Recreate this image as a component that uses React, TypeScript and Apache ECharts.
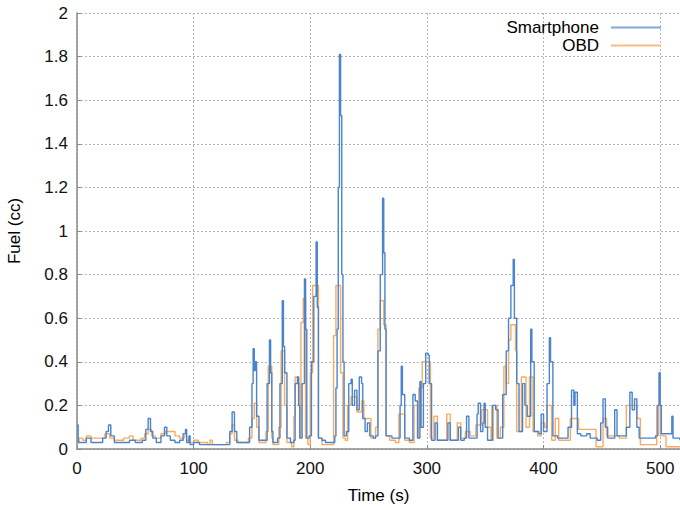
import React, { useEffect, useRef } from "react";
import * as echarts from "echarts";

// Smartphone series (blue): time (s) and fuel (cc)
const smartT = [
  0, 1, 5, 8, 12, 18, 22, 25, 27, 29, 32, 40, 45, 50, 56, 59, 61, 63, 65, 68, 72, 75, 77, 80, 84, 88, 91, 93, 94, 96, 97,
  100, 105, 110, 120, 128, 131, 133, 135, 137, 145, 148, 150, 151, 152, 153, 154, 156, 161, 163, 165, 166, 167, 168,
  172, 174, 176, 177, 178, 180, 183, 186, 187, 189, 190, 191, 193, 195, 196, 197, 199, 201, 203, 205, 206, 207, 210,
  213, 218, 221, 222, 223, 224, 225, 226, 227, 228, 229, 231, 233, 235, 236, 238, 240, 242, 244, 245, 247, 249, 251,
  254, 256, 258, 260, 262, 263, 264, 265, 270, 275, 277, 278, 279, 281, 285, 288, 290, 292, 294, 295, 297, 299, 301,
  302, 304, 307, 309, 316, 318, 320, 325, 327, 329, 332, 334, 336, 341, 343, 344, 346, 348, 349, 350, 352, 356, 359,
  361, 365, 368, 370, 372, 374, 375, 377, 379, 382, 384, 386, 389, 390, 392, 396, 398, 400, 403, 405, 406, 408, 412,
  418, 421, 424, 426, 427, 429, 432, 437, 440, 446, 449, 451, 453, 455, 459, 461, 463, 467, 471, 474, 476, 478, 480,
  482, 490, 496, 498, 499, 500, 501, 505, 508, 510, 511, 517,
];
const smartV = [
  0.11, 0.03, 0.03, 0.05, 0.03, 0.03, 0.05, 0.08, 0.11, 0.06, 0.03, 0.03, 0.04, 0.03, 0.04, 0.09, 0.14, 0.08, 0.05, 0.03,
  0.06, 0.1, 0.06, 0.04, 0.03, 0.04, 0.07, 0.09, 0.03, 0.06, 0.02,
  0.03, 0.02, 0.02, 0.02, 0.02, 0.08, 0.17, 0.08, 0.03, 0.03, 0.1, 0.3, 0.46, 0.36, 0.4, 0.15, 0.04, 0.04, 0.3, 0.5,
  0.35, 0.08, 0.03, 0.05, 0.3, 0.68, 0.47, 0.35, 0.05, 0.03, 0.04, 0.3, 0.33, 0.2, 0.05, 0.3, 0.78, 0.55, 0.05, 0.06,
  0.4, 0.7, 0.95, 0.65, 0.05, 0.04, 0.03, 0.03, 0.06, 0.28, 0.55, 1.2, 1.81, 1.53, 0.8, 0.4, 0.06, 0.08, 0.3, 0.32,
  0.2, 0.27, 0.18, 0.33, 0.3, 0.14, 0.08, 0.12, 0.06, 0.05, 0.06, 0.45, 0.8, 1.15, 0.9, 0.55, 0.06, 0.05, 0.05, 0.2,
  0.38, 0.25, 0.05, 0.04, 0.25, 0.22, 0.05, 0.31, 0.1, 0.3, 0.44, 0.43, 0.3, 0.04, 0.12, 0.04, 0.04, 0.12, 0.04, 0.04,
  0.1, 0.04, 0.05, 0.15, 0.05, 0.05, 0.16, 0.21, 0.08, 0.12, 0.21, 0.1, 0.04, 0.2, 0.18, 0.05, 0.25, 0.45, 0.6, 0.75,
  0.87, 0.6, 0.3, 0.08, 0.3, 0.2, 0.15, 0.55, 0.4, 0.08, 0.07, 0.16, 0.08, 0.3, 0.51, 0.4, 0.06, 0.05, 0.05, 0.1,
  0.27, 0.2, 0.26, 0.07, 0.06, 0.07, 0.05, 0.04, 0.12, 0.23, 0.1, 0.05, 0.05, 0.18, 0.06, 0.06, 0.1, 0.26, 0.18, 0.23,
  0.1, 0.05, 0.05, 0.06, 0.2, 0.35, 0.2, 0.07, 0.07, 0.07, 0.15, 0.05, 0.04,
];

// OBD series (orange): time (s) and fuel (cc)
const obdT = [
  0, 2, 5, 8, 12, 20, 24, 28, 32, 40, 45, 48, 55, 58, 61, 64, 67, 72, 76, 84, 88, 92, 94, 96, 100, 104, 112, 114, 116,
  128, 131, 133, 135, 138, 147, 150, 152, 154, 156, 162, 164, 167, 168, 173, 175, 178, 180, 184, 186, 187, 190, 191,
  192, 194, 196, 198, 200, 202, 207, 210, 218, 220, 222, 226, 228, 230, 232, 235, 240, 244, 246, 250, 252, 256, 258,
  260, 263, 265, 268, 273, 276, 281, 285, 289, 292, 293, 296, 303, 306, 309, 317, 320, 326, 329, 333, 337, 342, 347,
  352, 355, 357, 360, 363, 366, 368, 370, 372, 376, 377, 381, 385, 388, 391, 395, 398, 401, 403, 407, 410, 413, 423,
  430, 445, 448, 451, 454, 465, 471, 477, 480, 483, 497, 500, 505, 517,
];
const obdV = [
  0.03, 0.05, 0.04, 0.06, 0.05, 0.05, 0.07, 0.05, 0.04, 0.05, 0.06, 0.04, 0.05, 0.07, 0.09, 0.06, 0.05, 0.07, 0.08,
  0.06, 0.05, 0.06, 0.04, 0.03, 0.04, 0.03, 0.02, 0.04, 0.02,
  0.03, 0.07, 0.11, 0.04, 0.03, 0.05, 0.14, 0.21, 0.1, 0.03, 0.08, 0.38, 0.05, 0.02, 0.1, 0.45, 0.2, 0.03, 0.01, 0.15,
  0.33, 0.3, 0.05, 0.58, 0.69, 0.05, 0.02, 0.35, 0.75, 0.05, 0.02, 0.02, 0.52, 0.75, 0.35, 0.05, 0.04, 0.2, 0.24, 0.17,
  0.22, 0.14, 0.14, 0.05, 0.1, 0.55, 0.68, 0.57, 0.06, 0.04, 0.03, 0.16, 0.04, 0.03, 0.2, 0.05, 0.28, 0.4, 0.05, 0.15,
  0.04, 0.16, 0.04, 0.12, 0.05, 0.08, 0.06, 0.11, 0.18, 0.1, 0.04, 0.2, 0.05, 0.1, 0.38, 0.3, 0.5, 0.57, 0.45, 0.08,
  0.33, 0.1, 0.33, 0.08, 0.06, 0.12, 0.1, 0.2, 0.04, 0.14, 0.04, 0.14, 0.09, 0.01, 0.01, 0.14, 0.06, 0.05, 0.2, 0.2,
  0.14, 0.02, 0.2, 0.06, 0.01, 0.01,
];

const xTicks = [0, 100, 200, 300, 400, 500];
const yTicks = [0, 0.2, 0.4, 0.6, 0.8, 1, 1.2, 1.4, 1.6, 1.8, 2];

const BLUE = "#4b84cc";
const ORANGE = "#f7a24e";
const FONT = "'Liberation Sans', Arial, sans-serif";

export default function App() {
  const ref = useRef<HTMLDivElement>(null);
  useEffect(() => {
    if (!ref.current) return;
    const chart = echarts.init(ref.current, undefined, { renderer: "svg" });
    const smartData = smartT.map((t, i) => [t, smartV[i]]);
    const obdData = obdT.map((t, i) => [t, obdV[i]]);
    const gridLine = { show: true, lineStyle: { color: "#b5b5b5", type: [2, 2], width: 1 } };
    chart.setOption({
      animation: false,
      backgroundColor: "#ffffff",
      textStyle: { fontFamily: FONT },
      grid: { left: 77, top: 13, right: 0, bottom: 61, containLabel: false, outerBoundsMode: "none" },
      legend: {
        orient: "vertical",
        right: 14,
        top: 14,
        align: "right",
        icon: "rect",
        itemWidth: 50,
        itemHeight: 2,
        itemGap: 1,
        textStyle: { fontSize: 17, color: "#000", fontFamily: FONT, padding: [0, 7, 0, 0] },
        data: [
          { name: "Smartphone", itemStyle: { color: "#7fa9de" } },
          { name: "OBD", itemStyle: { color: "#f8bb80" } },
        ],
      },
      xAxis: {
        type: "value",
        min: 0,
        max: 517,
        interval: 100,
        name: "Time (s)",
        nameLocation: "middle",
        nameGap: 38,
        nameTextStyle: { fontSize: 17, color: "#000", fontFamily: FONT },
        axisLine: { show: true, onZero: false, lineStyle: { color: "#8a8a8a", width: 1.5 } },
        axisTick: { show: true, inside: true, length: 4, customValues: xTicks, lineStyle: { color: "#8a8a8a" } },
        axisLabel: {
          fontSize: 17,
          color: "#111",
          margin: 11,
          fontFamily: FONT,
          customValues: xTicks,
        },
        splitLine: gridLine,
      },
      yAxis: {
        type: "value",
        min: 0,
        max: 2,
        interval: 0.2,
        name: "Fuel (cc)",
        nameLocation: "middle",
        nameGap: 54,
        nameTextStyle: { fontSize: 17, color: "#000", fontFamily: FONT },
        axisLine: { show: true, lineStyle: { color: "#8a8a8a", width: 1.5 } },
        axisTick: { show: true, inside: true, length: 4, lineStyle: { color: "#8a8a8a" } },
        axisLabel: {
          fontSize: 17,
          color: "#111",
          margin: 9,
          fontFamily: FONT,
          formatter: (v: number) => {
            const match = yTicks.find((t) => Math.abs(t - v) < 1e-6);
            return match === undefined ? "" : String(match);
          },
        },
        splitLine: gridLine,
      },
      series: [
        {
          name: "Smartphone",
          type: "line",
          data: smartData,
          step: "end",
          showSymbol: false,
          symbol: "none",
          lineStyle: { color: BLUE, width: 1.4 },
          itemStyle: { color: BLUE },
          z: 3,
        },
        {
          name: "OBD",
          type: "line",
          data: obdData,
          step: "end",
          showSymbol: false,
          symbol: "none",
          lineStyle: { color: ORANGE, width: 1.4, opacity: 0.9 },
          itemStyle: { color: ORANGE },
          z: 2,
        },
      ],
    });
    return () => chart.dispose();
  }, []);
  return (
    <div
      ref={ref}
      style={{ position: "fixed", left: 0, top: 0, width: 680, height: 510, background: "#fff" }}
    />
  );
}
